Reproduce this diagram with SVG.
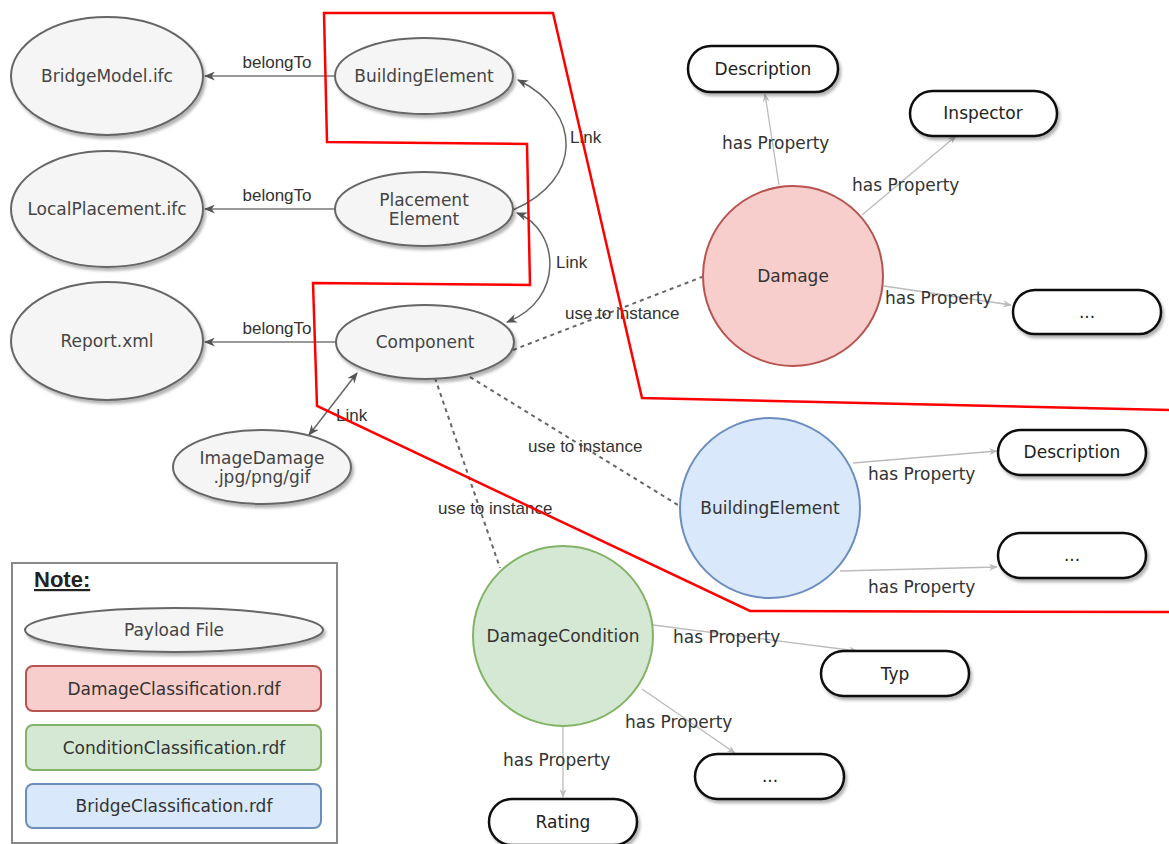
<svg xmlns="http://www.w3.org/2000/svg" width="1169" height="844" viewBox="0 0 1169 844">
  <style>
    .payload { fill: #f5f5f5; stroke: #666; stroke-width: 2; filter: url(#shadow); }
    .prop { fill: #fff; stroke: #111; stroke-width: 2.5; filter: url(#shadow); }
    .damage { fill: #f8cecc; stroke: #b85450; stroke-width: 2; }
    .bridge { fill: #dae8fc; stroke: #6c8ebf; stroke-width: 2; }
    .cond { fill: #d5e8d4; stroke: #82b366; stroke-width: 2; }
    .lbl { font-family: "DejaVu Sans", Verdana, sans-serif; font-size: 17px; fill: #444; text-anchor: middle; }
    .dark { fill: #333; }
    .plbl { font-family: "DejaVu Sans", Verdana, sans-serif; font-size: 17px; fill: #222; text-anchor: middle; }
    .elbl { font-family: "Liberation Sans", Arial, sans-serif; font-size: 17px; fill: #333; }
    .hp { font-family: "DejaVu Sans", Verdana, sans-serif; font-size: 17px; fill: #333; }
    .belong { fill: none; stroke: #777; stroke-width: 1.5; marker-end: url(#arrowDark); }
    .link { fill: none; stroke: #666; stroke-width: 1.5; }
    .inst { fill: none; stroke: #666; stroke-width: 2; stroke-dasharray: 4 4; }
    .hasprop { fill: none; stroke: #bbb; stroke-width: 1.3; marker-end: url(#arrowLight); }
    .frame { fill: none; stroke: #ff0000; stroke-width: 2.5; stroke-linejoin: miter; }
  </style>
  <defs>
    <filter id="shadow" x="-20%" y="-30%" width="150%" height="170%">
      <feDropShadow dx="2" dy="3" stdDeviation="1.5" flood-color="#000" flood-opacity="0.3"/>
    </filter>
    <marker id="arrowDark" viewBox="0 0 10 8" refX="9" refY="4" markerWidth="11" markerHeight="9" markerUnits="userSpaceOnUse" orient="auto-start-reverse">
      <path d="M0,0 L10,4 L0,8 L3,4 Z" fill="#555"/>
    </marker>
    <marker id="arrowLight" viewBox="0 0 10 8" refX="9" refY="4" markerWidth="9" markerHeight="7" markerUnits="userSpaceOnUse" orient="auto">
      <path d="M0,0 L10,4 L0,8 L3,4 Z" fill="#bbb"/>
    </marker>
  </defs>

  <rect width="1169" height="844" fill="#fff"/>

  <!-- connectors -->
  <g id="connectors">
    <path class="belong" d="M336,76 L205,76"/>
    <path class="belong" d="M336,209 L205,209"/>
    <path class="belong" d="M336,342 L205,342"/>

    <path class="link" d="M513,210 C583,180 583,112 518,80" marker-end="url(#arrowDark)"/>
    <path class="link" d="M517,213 C560,230 565,300 507,322" marker-start="url(#arrowDark)" marker-end="url(#arrowDark)"/>
    <path class="link" d="M357,373 L309,435" marker-start="url(#arrowDark)" marker-end="url(#arrowDark)"/>

    <path class="inst" d="M513,350 L702,277"/>
    <path class="inst" d="M470,377 L678,505"/>
    <path class="inst" d="M435,378 L500,568"/>

    <path class="hasprop" d="M779,185 L765,94"/>
    <path class="hasprop" d="M862,215 L956,136"/>
    <path class="hasprop" d="M884,286 L1011,305"/>
    <path class="hasprop" d="M853,463 L997,451"/>
    <path class="hasprop" d="M840,571 L997,567"/>
    <path class="hasprop" d="M653,625 L857,651"/>
    <path class="hasprop" d="M642,689 L735,753"/>
    <path class="hasprop" d="M563,727 L563,797"/>

    <text class="elbl" x="277" y="68" text-anchor="middle">belongTo</text>
    <text class="elbl" x="277" y="201" text-anchor="middle">belongTo</text>
    <text class="elbl" x="277" y="334" text-anchor="middle">belongTo</text>
    <text class="elbl" x="570" y="143">Link</text>
    <text class="elbl" x="556" y="268">Link</text>
    <text class="elbl" x="336" y="421">Link</text>
    <text class="elbl" x="565" y="319">use to instance</text>
    <text class="elbl" x="528" y="452">use to instance</text>
    <text class="elbl" x="438" y="514">use to instance</text>

    <text class="hp" x="722" y="149">has Property</text>
    <text class="hp" x="852" y="191">has Property</text>
    <text class="hp" x="885" y="304">has Property</text>
    <text class="hp" x="868" y="480">has Property</text>
    <text class="hp" x="868" y="593">has Property</text>
    <text class="hp" x="673" y="643">has Property</text>
    <text class="hp" x="625" y="728">has Property</text>
    <text class="hp" x="503" y="766">has Property</text>
  </g>

  <!-- payload files -->
  <g id="bridgeModel">
    <ellipse class="payload" cx="107" cy="76" rx="96" ry="59"/>
    <text class="lbl" x="107" y="82">BridgeModel.ifc</text>
  </g>
  <g id="localPlacement">
    <ellipse class="payload" cx="107" cy="209" rx="96" ry="58"/>
    <text class="lbl" x="107" y="215">LocalPlacement.ifc</text>
  </g>
  <g id="report">
    <ellipse class="payload" cx="107" cy="341" rx="96" ry="59"/>
    <text class="lbl" x="107" y="347">Report.xml</text>
  </g>
  <g id="buildingElementFile">
    <ellipse class="payload" cx="424" cy="76" rx="89" ry="38"/>
    <text class="lbl" x="424" y="82">BuildingElement</text>
  </g>
  <g id="placementElement">
    <ellipse class="payload" cx="424" cy="209" rx="89" ry="37"/>
    <text class="lbl" x="424" y="206">Placement</text>
    <text class="lbl" x="424" y="225">Element</text>
  </g>
  <g id="component">
    <ellipse class="payload" cx="425" cy="342" rx="89" ry="37"/>
    <text class="lbl" x="425" y="348">Component</text>
  </g>
  <g id="imageDamage">
    <ellipse class="payload" cx="262" cy="467" rx="89" ry="37"/>
    <text class="lbl" x="262" y="464">ImageDamage</text>
    <text class="lbl" x="262" y="483">.jpg/png/gif</text>
  </g>

  <!-- classes -->
  <g id="damage">
    <circle class="damage" cx="793" cy="276" r="90"/>
    <text class="lbl dark" x="793" y="282">Damage</text>
  </g>
  <g id="buildingElementClass">
    <circle class="bridge" cx="770" cy="508" r="90"/>
    <text class="lbl dark" x="770" y="514">BuildingElement</text>
  </g>
  <g id="damageCondition">
    <circle class="cond" cx="563" cy="636" r="90"/>
    <text class="lbl dark" x="563" y="642">DamageCondition</text>
  </g>

  <!-- properties -->
  <g id="damageDescription">
    <rect class="prop" x="688" y="46" width="150" height="46" rx="23"/>
    <text class="plbl" x="763" y="75">Description</text>
  </g>
  <g id="inspector">
    <rect class="prop" x="910" y="91" width="147" height="45" rx="22.5"/>
    <text class="plbl" x="983" y="119">Inspector</text>
  </g>
  <g id="damageMore">
    <rect class="prop" x="1013" y="290" width="148" height="44" rx="22"/>
    <text class="plbl" x="1087" y="318">...</text>
  </g>
  <g id="elementDescription">
    <rect class="prop" x="998" y="430" width="148" height="45" rx="22.5"/>
    <text class="plbl" x="1072" y="458">Description</text>
  </g>
  <g id="elementMore">
    <rect class="prop" x="998" y="533" width="148" height="45" rx="22.5"/>
    <text class="plbl" x="1072" y="561">...</text>
  </g>
  <g id="typ">
    <rect class="prop" x="821" y="651" width="148" height="45" rx="22.5"/>
    <text class="plbl" x="895" y="680">Typ</text>
  </g>
  <g id="conditionMore">
    <rect class="prop" x="695" y="754" width="149" height="45" rx="22.5"/>
    <text class="plbl" x="770" y="782">...</text>
  </g>
  <g id="rating">
    <rect class="prop" x="489" y="799" width="148" height="46" rx="23"/>
    <text class="plbl" x="563" y="828">Rating</text>
  </g>

  <!-- scope outlines -->
  <g id="scope">
    <path class="frame" d="M1169,410 L642,398 L553,13 L324,13 L327,142 L527,144 L530,285 L313,283 L317,406 L750,611 L1169,612"/>
  </g>

  <!-- legend -->
  <g id="legend">
    <rect x="12" y="563" width="325" height="280" fill="#fff" stroke="#888" stroke-width="2"/>
    <text x="34" y="587" font-family="Liberation Sans, Arial, sans-serif" font-size="22" font-weight="bold" fill="#222" text-decoration="underline">Note:</text>
    <ellipse class="payload" cx="174" cy="630" rx="149" ry="22"/>
    <text class="lbl" x="174" y="636">Payload File</text>
    <rect x="26" y="666" width="295" height="45" rx="7" fill="#f8cecc" stroke="#b85450" stroke-width="2"/>
    <text class="lbl dark" x="174" y="695">DamageClassification.rdf</text>
    <rect x="26" y="725" width="295" height="45" rx="7" fill="#d5e8d4" stroke="#82b366" stroke-width="2"/>
    <text class="lbl dark" x="174" y="754">ConditionClassification.rdf</text>
    <rect x="26" y="784" width="295" height="44" rx="7" fill="#dae8fc" stroke="#6c8ebf" stroke-width="2"/>
    <text class="lbl dark" x="174" y="812">BridgeClassification.rdf</text>
  </g>
</svg>
